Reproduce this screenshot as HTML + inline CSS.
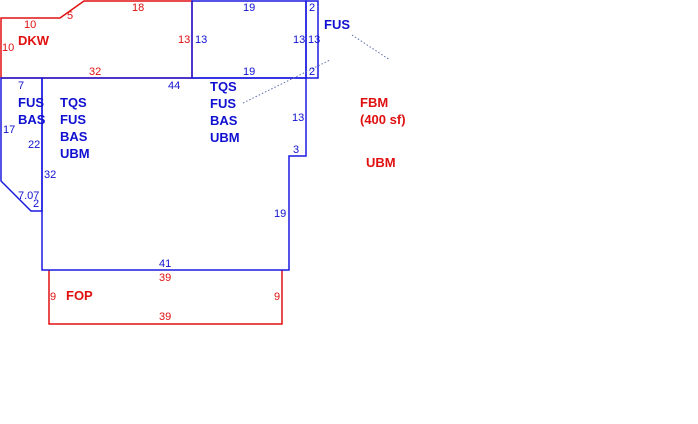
<!DOCTYPE html>
<html><head><style>
body{margin:0;background:#fff;width:698px;height:419px;overflow:hidden}
svg text{font-family:"Liberation Sans",Arial,sans-serif}
.n{font-size:11px}
.b{fill:#1010d0}
.r{fill:#e01010}
.L{font-size:13px;font-weight:bold}
</style></head><body>
<svg width="698" height="419" viewBox="0 0 698 419" xmlns="http://www.w3.org/2000/svg">
<g fill="none" stroke-width="1.5">
<polygon points="1,18 60,18 84,1 192,1 192,78 1,78" stroke="#e01010"/>
<polyline points="49,270 49,324 282,324 282,270" stroke="#e01010"/>
<rect x="192" y="1" width="114" height="77" stroke="#1a1ae0"/>
<rect x="306" y="1" width="12" height="77" stroke="#1a1ae0"/>
<polygon points="1,78 42,78 42,211 31,211 1,181" stroke="#1a1ae0"/>
<polygon points="42,78 306,78 306,156 289,156 289,270 42,270" stroke="#1a1ae0"/>
</g>
<g stroke="#6070b0" stroke-width="1" stroke-dasharray="1.5,2">
<line x1="243" y1="103" x2="330" y2="60"/>
<line x1="352" y1="35" x2="390" y2="60"/>
</g>
<g class="n r">
<text x="24" y="28">10</text>
<text x="67" y="19">5</text>
<text x="132" y="11">18</text>
<text x="2" y="51">10</text>
<text x="178" y="43">13</text>
<text x="89" y="75">32</text>
<text x="159" y="281">39</text>
<text x="50" y="300">9</text>
<text x="274" y="300">9</text>
<text x="159" y="320">39</text>
</g>
<g class="n b">
<text x="243" y="11">19</text>
<text x="309" y="11">2</text>
<text x="195" y="43">13</text>
<text x="293" y="43">13</text>
<text x="308" y="43">13</text>
<text x="243" y="75">19</text>
<text x="309" y="75">2</text>
<text x="18" y="89">7</text>
<text x="168" y="89">44</text>
<text x="3" y="133">17</text>
<text x="28" y="148">22</text>
<text x="44" y="178">32</text>
<text x="292" y="121">13</text>
<text x="293" y="153">3</text>
<text x="18" y="199">7.07</text>
<text x="33" y="207">2</text>
<text x="274" y="217">19</text>
<text x="159" y="267">41</text>
</g>
<g class="L r">
<text x="18" y="45">DKW</text>
<text x="360" y="107">FBM</text>
<text x="360" y="124">(400 sf)</text>
<text x="366" y="167">UBM</text>
<text x="66" y="300">FOP</text>
</g>
<g class="L b">
<text x="324" y="29">FUS</text>
<text x="18" y="107">FUS</text>
<text x="18" y="124">BAS</text>
<text x="60" y="107">TQS</text>
<text x="60" y="124">FUS</text>
<text x="60" y="141">BAS</text>
<text x="60" y="158">UBM</text>
<text x="210" y="91">TQS</text>
<text x="210" y="108">FUS</text>
<text x="210" y="125">BAS</text>
<text x="210" y="142">UBM</text>
</g>
</svg>
</body></html>
